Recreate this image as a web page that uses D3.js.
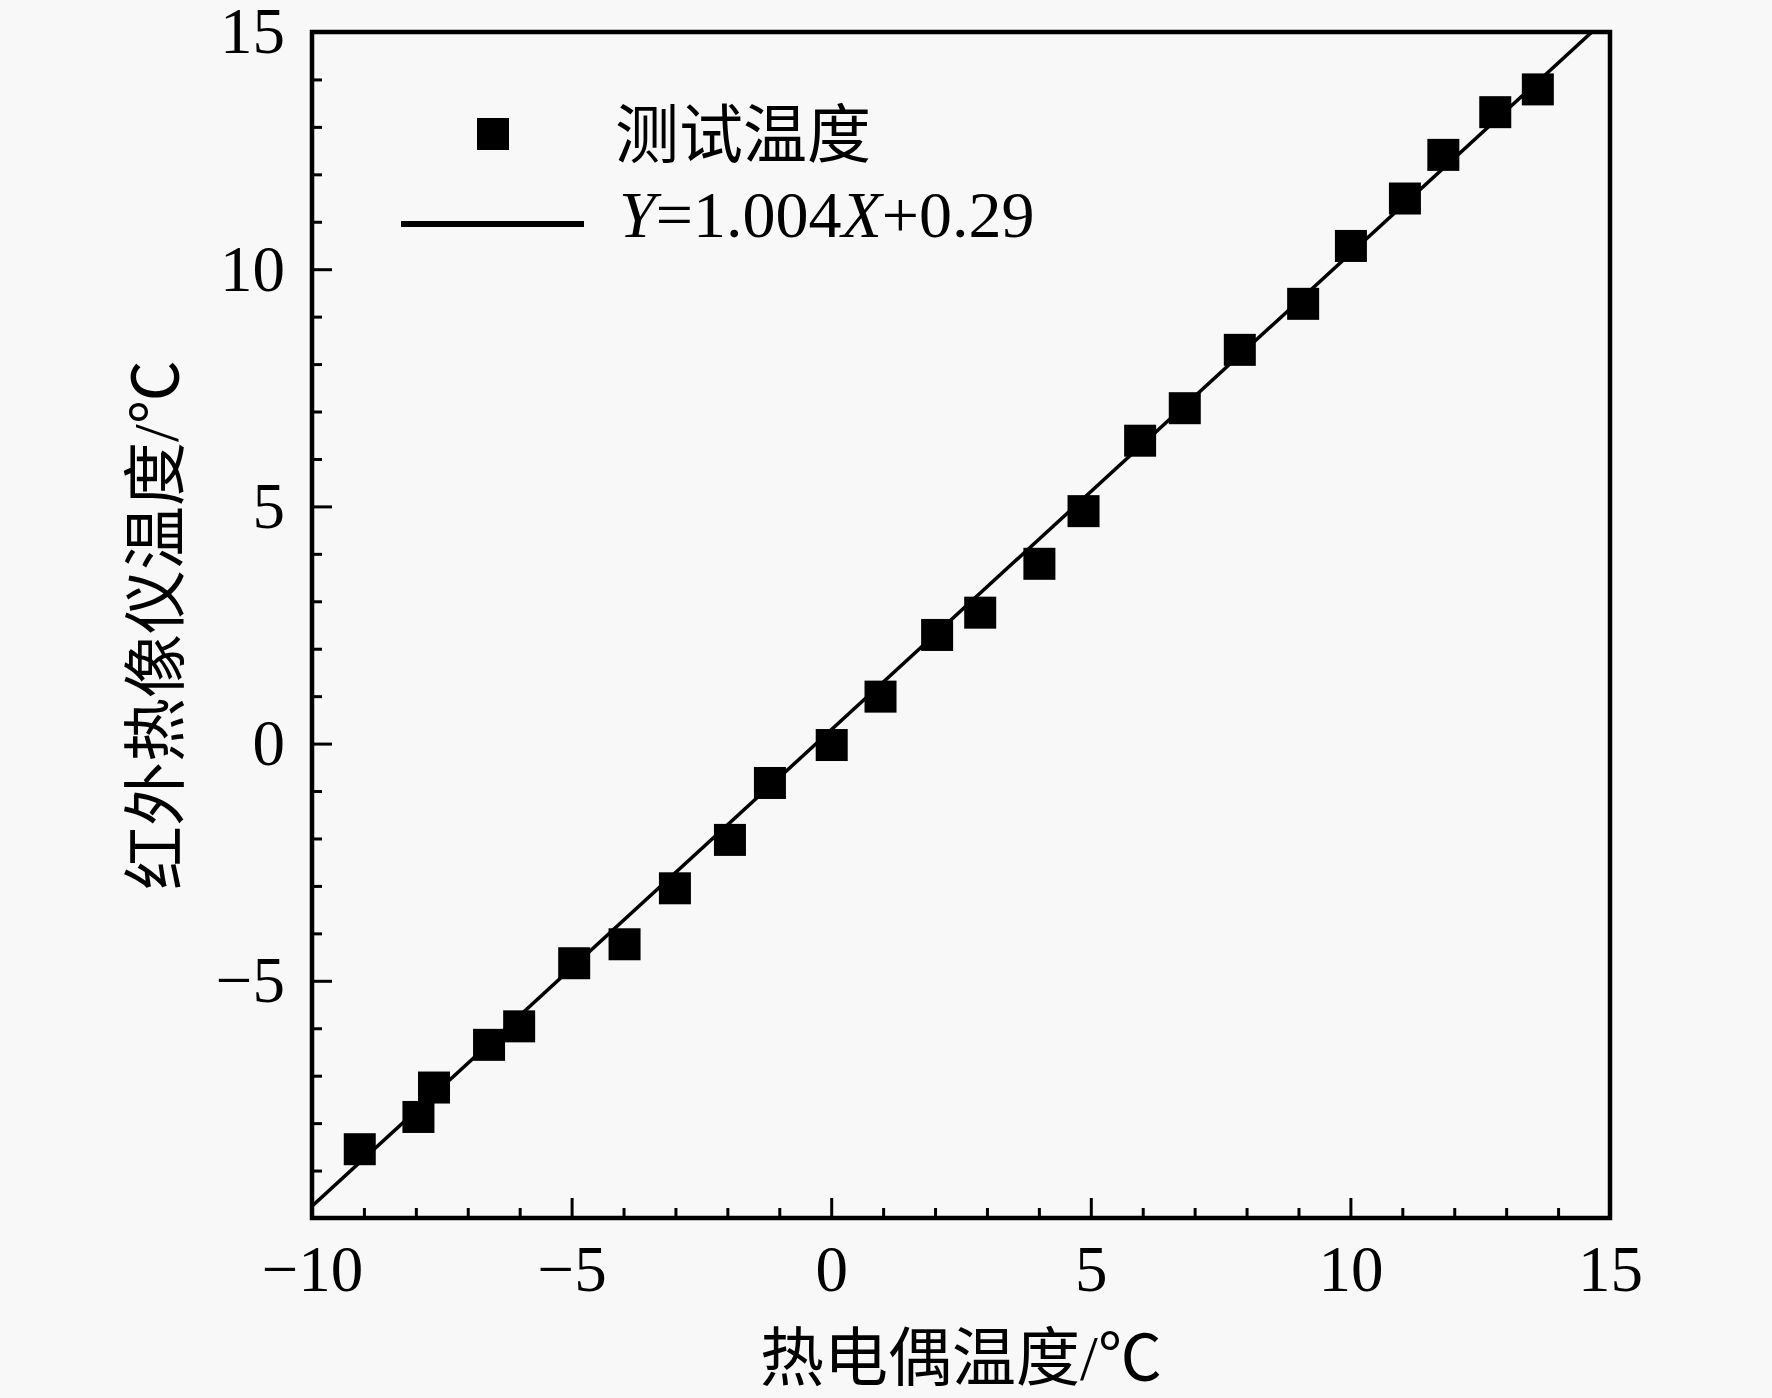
<!DOCTYPE html>
<html><head><meta charset="utf-8">
<script src="https://cdn.jsdelivr.net/npm/d3@7"></script>
<style>
html,body{margin:0;padding:0;background:#f8f8f8;}
svg{display:block;}
</style></head>
<body>
<script>
// Data
const thermocoupleTemp = [-9.08,-7.95,-7.65,-6.59,-6.01,-4.95,-3.98,-3.01,-1.95,-1.18,0.01,0.95,2.04,2.87,4.01,4.86,5.95,6.81,7.87,9.09,10.01,11.05,11.79,12.79,13.61];
const infraredTemp    = [-8.55,-7.87,-7.25,-6.35,-5.96,-4.63,-4.23,-3.05,-2.03,-0.83,-0.03,0.99,2.29,2.76,3.79,4.90,6.385,7.07,8.30,9.27,10.49,11.49,12.41,13.31,13.79];
const fitSlope = 1.004;
const fitIntercept = 0.29;
const xMajorTicks = [-10,-5,0,5,10,15];
const yMajorTicks = [-5,0,5,10,15];
const minorTicks = d3.range(-10,16,1);
const xTitle = "热电偶温度/℃";
const yTitle = "红外热像仪温度/℃";
const legendPoints = "测试温度";

const W = 1772, H = 1398;
const L = 312, R = 1610, T = 32, B = 1218;
const serif = "'Liberation Serif','Times New Roman',serif";
const cjk = "'Liberation Serif','Noto Sans CJK SC',serif";

const svg = d3.select("body").append("svg").attr("width",W).attr("height",H);
svg.append("rect").attr("width",W).attr("height",H).attr("fill","#f8f8f8");

const x = d3.scaleLinear().domain([-10,15]).range([L,R]);
const y = d3.scaleLinear().domain([-10,15]).range([B,T]);

svg.append("defs").append("clipPath").attr("id","clip")
  .append("rect").attr("x",L).attr("y",T).attr("width",R-L).attr("height",B-T);

const fmt = d => d < 0 ? "\u2212" + Math.abs(d) : String(d);

// minor ticks
svg.append("g").attr("transform",`translate(0,${B})`)
  .call(d3.axisBottom(x).tickValues(minorTicks.filter(d=>!xMajorTicks.includes(d))).tickSize(-10).tickFormat(""))
  .call(g=>g.select(".domain").remove())
  .call(g=>g.selectAll("line").attr("stroke","#000").attr("stroke-width",3));
svg.append("g").attr("transform",`translate(${L},0)`)
  .call(d3.axisLeft(y).tickValues(minorTicks.filter(d=>!yMajorTicks.includes(d) && d!==-10)).tickSize(-10).tickFormat(""))
  .call(g=>g.select(".domain").remove())
  .call(g=>g.selectAll("line").attr("stroke","#000").attr("stroke-width",3));

// major ticks + labels
svg.append("g").attr("transform",`translate(0,${B})`)
  .call(d3.axisBottom(x).tickValues(xMajorTicks).tickSize(-20).tickPadding(27).tickFormat(fmt))
  .call(g=>g.select(".domain").remove())
  .call(g=>g.selectAll("line").attr("stroke","#000").attr("stroke-width",3))
  .call(g=>g.selectAll("text").attr("fill","#000").attr("font-family",serif).attr("font-size",65));
svg.append("g").attr("transform",`translate(${L},0)`)
  .call(d3.axisLeft(y).tickValues(yMajorTicks).tickSize(-20).tickPadding(27).tickFormat(fmt))
  .call(g=>g.select(".domain").remove())
  .call(g=>g.selectAll("line").attr("stroke","#000").attr("stroke-width",3))
  .call(g=>g.selectAll("text").attr("fill","#000").attr("font-family",serif).attr("font-size",65));

// fit line
const fitX = x.domain();
svg.append("g").attr("clip-path","url(#clip)")
  .append("path")
  .datum(fitX.map(v=>[v, fitSlope*v+fitIntercept]))
  .attr("d", d3.line().x(d=>x(d[0])).y(d=>y(d[1])))
  .attr("fill","none").attr("stroke","#000").attr("stroke-width",3.5);

// points
const pts = thermocoupleTemp.map((v,i)=>({x:v,y:infraredTemp[i]}));
const S = 32;
svg.append("g").selectAll("rect").data(pts).join("rect")
  .attr("x",d=>x(d.x)-S/2).attr("y",d=>y(d.y)-S/2)
  .attr("width",S).attr("height",S).attr("fill","#000");

// frame
svg.append("rect").attr("x",L).attr("y",T).attr("width",R-L).attr("height",B-T)
  .attr("fill","none").attr("stroke","#000").attr("stroke-width",4.5);

// legend
svg.append("rect").attr("x",477).attr("y",118).attr("width",S).attr("height",S).attr("fill","#000");
svg.append("text").attr("x",615).attr("y",157).attr("font-family",cjk).attr("font-size",64)
  .attr("fill","#000").text(legendPoints);
svg.append("line").attr("x1",401).attr("x2",584).attr("y1",224).attr("y2",224)
  .attr("stroke","#000").attr("stroke-width",6);
const ft = svg.append("text").attr("x",619).attr("y",237).attr("font-family",serif).attr("font-size",66).attr("fill","#000");
ft.append("tspan").attr("font-style","italic").text("Y");
ft.append("tspan").text("=" + fitSlope.toFixed(3));
ft.append("tspan").attr("font-style","italic").text("X");
ft.append("tspan").text("+" + fitIntercept.toFixed(2));

// axis titles
svg.append("text").attr("x",(L+R)/2).attr("y",1380).attr("text-anchor","middle")
  .attr("font-family",cjk).attr("font-size",64).attr("fill","#000").text(xTitle);
svg.append("text").attr("transform",`translate(178,${(T+B)/2}) rotate(-90)`).attr("text-anchor","middle")
  .attr("font-family",cjk).attr("font-size",64).attr("fill","#000").text(yTitle);
</script>
</body></html>
